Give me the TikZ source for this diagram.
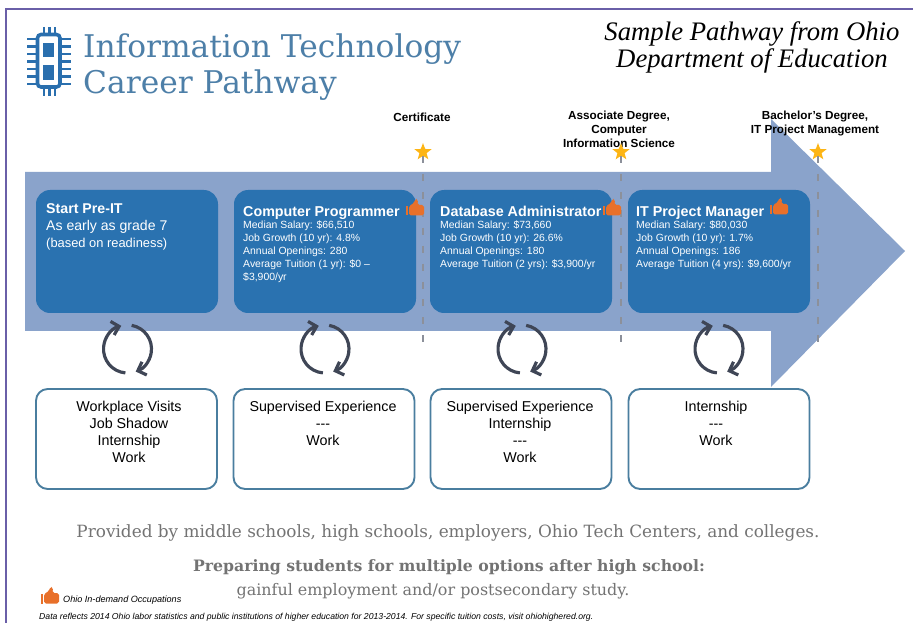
\documentclass[tikz,border=0pt]{standalone}
\usepackage{amsmath}
\usepackage{xcolor}
\usepackage{fontspec}
\setmainfont{Liberation Sans}
\newfontfamily\slabfont{DejaVu Serif}
\newfontfamily\quotefont{Liberation Serif}
\usepackage{tikz}
\usetikzlibrary{positioning, arrows.meta, shapes.geometric}

\definecolor{pathblue}{HTML}{8AA3CB}
\definecolor{cardblue}{HTML}{2A72B0}
\definecolor{edgeblue}{HTML}{4A7E9F}
\definecolor{titleblue}{HTML}{4D7FA8}
\definecolor{chipblue}{HTML}{2A6FAE}
\definecolor{framepurple}{HTML}{6A5FA8}
\definecolor{cyclegrey}{HTML}{3F4656}
\definecolor{thumborange}{HTML}{E8702A}
\definecolor{stargold}{HTML}{FDB515}

\tikzset{
    cycle/.pic={
        \draw[cyclegrey, line width=2.7pt, -{Straight Barb[length=6pt, width=12pt]}] (95:24) arc[start angle=95, end angle=255, radius=24];
        \draw[cyclegrey, line width=2.7pt, -{Straight Barb[length=6pt, width=12pt]}] (280:24) arc[start angle=280, end angle=430, radius=24];
    },
    thumb/.pic={
        \fill[thumborange] (-9.5,-3) rectangle (-7.5,6.5);
        \fill[thumborange, rounded corners=1.5] (-6,-3) -- (-1,-6) -- (0.5,-10.5) -- (3,-9.5) -- (2.5,-4) -- (9,-4) -- (9,6.5) -- (-6,6.5) -- cycle;
    }
}

\begin{document}
\begin{tikzpicture}[
    x=0.03cm, y=-0.03cm,
    pathbox/.style={rectangle, rounded corners=12pt, fill=cardblue, minimum width=182*0.03cm, minimum height=123*0.03cm},
    workbox/.style={rectangle, rounded corners=10pt, draw=edgeblue, line width=1.6pt, fill=white, minimum width=181*0.03cm, minimum height=100*0.03cm},
    cardhead/.style={anchor=base west, inner sep=0pt, text=white, font=\fontsize{12.2}{14}\selectfont\bfseries},
    carddetail/.style={anchor=north west, inner sep=0pt, align=left, text=white, font=\fontsize{8.9}{11}\selectfont},
    worktext/.style={anchor=north, inner sep=0pt, align=center, font=\fontsize{12.2}{14.5}\selectfont},
    degree/.style={inner sep=0pt, align=center, font=\fontsize{10}{12}\selectfont\bfseries},
    starnode/.style={star, star points=5, star point ratio=2.4, fill=stargold, inner sep=0pt, minimum size=18*0.03cm},
    milestone/.style={dash pattern=on 6pt off 9.3pt, draw=cyclegrey!60, line width=1pt},
    slabgrey/.style={inner sep=0pt, text=black!55, font=\slabfont\fontsize{14.4}{17}\selectfont}
]
    \useasboundingbox (0,0) rectangle (913,623);

    % Frame
    \draw[framepurple, line width=1.3pt] (6,623) -- (6,9) -- (913,9);

    % Heading
    \draw[chipblue, line width=3pt, rounded corners=3pt] (37.5,34.5) rectangle (60,87);
    \fill[chipblue] (43,43) rectangle (54,57);
    \fill[chipblue] (43,65) rectangle (54,80);
    \draw[chipblue, line width=2.2pt] (27,39) -- (37,39) (27,46.5) -- (37,46.5) (27,54) -- (37,54) (27,61.5) -- (37,61.5) (27,69) -- (37,69) (27,76.5) -- (37,76.5) (27,84) -- (37,84);
    \draw[chipblue, line width=2.2pt] (61,39) -- (71,39) (61,46.5) -- (71,46.5) (61,54) -- (71,54) (61,61.5) -- (71,61.5) (61,69) -- (71,69) (61,76.5) -- (71,76.5) (61,84) -- (71,84);
    \draw[chipblue, line width=2.2pt] (44,27) -- (44,34) (49.5,27) -- (49.5,34) (55,27) -- (55,34) (44,88) -- (44,96) (49.5,88) -- (49.5,96) (55,88) -- (55,96);
    \node[anchor=base west, inner sep=0pt, text=titleblue, font=\slabfont\fontsize{26.7}{30}\selectfont] (title1) at (83,58) {Information Technology};
    \node[anchor=base west, inner sep=0pt, text=titleblue, font=\slabfont\fontsize{26.7}{30}\selectfont] (title2) at (83,94) {Career Pathway};
    \node[inner sep=0pt, align=center, font=\quotefont\itshape\fontsize{22.8}{23.5}\selectfont] (sample) at (752,47.5) {Sample Pathway from Ohio\\Department of Education};

    % Pathway arrow
    \fill[pathblue] (25,172) -- (771,172) -- (771,119) -- (905,251) -- (771,387) -- (771,331) -- (25,331) -- cycle;

    % Pathway cards
    \node[pathbox] (pre) at (127,251.5) {};
    \node[pathbox] (cp) at (325,251.5) {};
    \node[pathbox] (db) at (521,251.5) {};
    \node[pathbox] (pm) at (719,251.5) {};

    \node[cardhead, font=\fontsize{12.1}{14}\selectfont\bfseries] (prehead) at (46,214) {Start Pre-IT};
    \node[anchor=north west, inner sep=0pt, align=left, text=white, font=\fontsize{12}{14.5}\selectfont] (pretext) at (46,220.5) {As early as grade 7\\[-0.5pt]{\fontsize{11}{14.5}\selectfont (based on readiness)}};

    \node[cardhead] (cphead) at (243,217) {Computer Programmer};
    \node[carddetail] (cptext) at (243,220.5) {Median Salary: \$66,510\\Job Growth (10 yr): 4.8\%\\Annual Openings: 280\\Average Tuition (1 yr): \$0 --\\\$3,900/yr};
    \node[cardhead] (dbhead) at (440,217) {Database Administrator};
    \node[carddetail] (dbtext) at (440,220.5) {Median Salary: \$73,660\\Job Growth (10 yr): 26.6\%\\Annual Openings: 180\\Average Tuition (2 yrs): \$3,900/yr};
    \node[cardhead] (pmhead) at (636,217) {IT Project Manager};
    \node[carddetail] (pmtext) at (636,220.5) {Median Salary: \$80,030\\Job Growth (10 yr): 1.7\%\\Annual Openings: 186\\Average Tuition (4 yrs): \$9,600/yr};

    % Milestones
    \node[degree] (cert) at (422,117) {Certificate};
    \node[degree, anchor=north] (assoc) at (619,111) {Associate Degree,\\Computer\\Information Science};
    \node[degree, anchor=north] (bach) at (815,111) {Bachelor's Degree,\\IT Project Management};
    \node[starnode] (s1) at (423,152) {};
    \node[starnode] (s2) at (621,152) {};
    \node[starnode] (s3) at (818,152) {};
    \coordinate (e1) at (423,348);
    \coordinate (e2) at (621,348);
    \coordinate (e3) at (818,348);
    \draw[milestone] (s1) -- (e1);
    \draw[milestone] (s2) -- (e2);
    \draw[milestone] (s3) -- (e3);

    % Thumbs
    \pic (t1) at (415,209) {thumb};
    \pic (t2) at (612,209) {thumb};
    \pic (t3) at (779,208) {thumb};

    % Cycles
    \pic (c1) at (127.5,349) {cycle};
    \pic (c2) at (325,349) {cycle};
    \pic (c3) at (522,349) {cycle};
    \pic (c4) at (719,349) {cycle};

    % Work based learning
    \node[workbox] (wp) at (126.5,439) {};
    \node[workbox] (se) at (324,439) {};
    \node[workbox] (si) at (521,439) {};
    \node[workbox] (in) at (719,439) {};
    \node[worktext] (wptext) at (129,400.5) {Workplace Visits\\Job Shadow\\Internship\\Work};
    \node[worktext] (setext) at (323,400.5) {Supervised Experience\\-{}-{}-\\Work};
    \node[worktext] (sitext) at (520,400.5) {Supervised Experience\\Internship\\-{}-{}-\\Work};
    \node[worktext] (intext) at (716,400.5) {Internship\\-{}-{}-\\Work};

    % Notes
    \node[slabgrey] (note1) at (448,533) {Provided by middle schools, high schools, employers, Ohio Tech Centers, and colleges.};
    \node[slabgrey, font=\slabfont\bfseries\fontsize{13.4}{16}\selectfont] (note2) at (449,567) {Preparing students for multiple options after high school:};
    \node[slabgrey, font=\slabfont\fontsize{13.6}{16}\selectfont] (note3) at (433,591) {gainful employment and/or postsecondary study.};
    \pic (t4) at (50,597) {thumb};
    \node[anchor=base west, inner sep=0pt, font=\itshape\fontsize{7.75}{10}\selectfont] (legend) at (63,602) {Ohio In-demand Occupations};
    \node[anchor=base west, inner sep=0pt, font=\itshape\fontsize{7.4}{10}\selectfont] (source) at (39,619) {Data reflects 2014 Ohio labor statistics and public institutions of higher education for 2013-2014. For specific tuition costs, visit ohiohighered.org.};
\end{tikzpicture}
\end{document}
